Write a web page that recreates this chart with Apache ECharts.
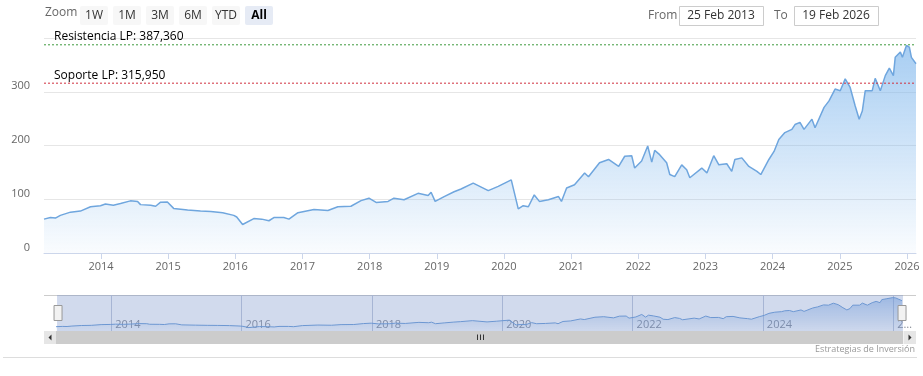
<!DOCTYPE html>
<html>
<head>
<meta charset="utf-8">
<script src="https://cdn.jsdelivr.net/npm/echarts@6/dist/echarts.min.js"></script>
<style>
  html, body { margin: 0; padding: 0; background: #fff; }
  #chart { width: 923px; height: 376px; }
</style>
</head>
<body>
<div id="chart"></div>
<script>
const FONT = 'Open Sans';

// price series
const dates = [
  '2013-02-25','2013-04-01','2013-04-28','2013-05-25','2013-07-19','2013-09-11','2013-11-05','2013-12-29',
  '2014-01-25','2014-03-09','2014-04-17','2014-06-10','2014-07-19','2014-08-04','2014-09-28','2014-10-25','2014-11-21','2014-12-28',
  '2015-01-31','2015-04-17','2015-06-26','2015-08-21','2015-10-25','2015-12-24',
  '2016-01-09','2016-02-10','2016-04-11','2016-05-24','2016-07-02','2016-07-29','2016-09-21','2016-10-19','2016-12-07',
  '2017-03-04','2017-05-19','2017-07-12','2017-09-21','2017-11-15','2017-12-28',
  '2018-02-05','2018-04-11','2018-05-13','2018-07-07','2018-09-21','2018-11-15','2018-12-01','2018-12-23',
  '2019-02-10','2019-04-05','2019-05-13','2019-07-18','2019-10-08','2019-12-01',
  '2020-02-10','2020-02-20','2020-03-19','2020-04-15','2020-05-13','2020-06-14','2020-07-12','2020-08-30','2020-10-24','2020-11-09','2020-12-07',
  '2021-01-19','2021-03-15','2021-04-05','2021-06-04','2021-07-23','2021-09-16','2021-10-19','2021-11-26','2021-12-12',
  '2022-01-19','2022-02-21','2022-03-15','2022-03-31','2022-04-27','2022-06-04','2022-06-21','2022-07-18','2022-08-25','2022-09-21','2022-10-08','2022-12-12',
  '2023-01-09','2023-02-15','2023-03-15','2023-04-27','2023-05-24','2023-06-10','2023-07-18','2023-08-25','2023-10-08','2023-10-29','2023-12-12',
  '2024-01-09','2024-02-04','2024-03-08','2024-04-15','2024-05-02','2024-05-29','2024-06-20','2024-08-02','2024-08-19','2024-10-07','2024-11-03','2024-12-06',
  '2025-01-03','2025-01-30','2025-02-26','2025-03-25','2025-04-16','2025-05-03','2025-05-19','2025-06-26','2025-07-12','2025-08-09','2025-09-05','2025-09-27','2025-10-19','2025-10-29','2025-11-26','2025-12-07','2025-12-29',
  '2026-01-14','2026-01-25','2026-02-19'
];
const prices = [
  63,66,65,70,76,78,86,88,
  91,89,92,97,96,90,89,87,94.5,95,
  83,80,78,77,75,70,
  67,53,64,63,60,66,66,63,75,
  81,79,86,87,97.5,102,
  94,96,102,99,111,107,113,96,
  105,114,119,130,116,124,
  136,138,82,88,86,108,96,99,105,96,121,
  127,149,142,168,174,161,180,181,158,
  171,199,169,191,183,168,146,142,164,155,140,158,
  149,181,164,166,152,174,177,161,152,146,174,
  189,211,224,230,239,243,230,249,233,271,283,305,
  302,324,308,274,249,264,302,302,325,302,330,344,330,364,374,364,386,
  383,364,352
];

const resistance = 387.36;
const resistanceLabel = 'Resistencia LP: 387,360';
const support = 315.95;
const supportLabel = 'Soporte LP: 315,950';

const mainYears = [2014, 2015, 2016, 2017, 2018, 2019, 2020, 2021, 2022, 2023, 2024, 2025, 2026];
const navYears = [2014, 2016, 2018, 2020, 2022, 2024, 2026];

const rangeButtons = ['1W', '1M', '3M', '6M', 'YTD', 'All'];
const fromDate = '25 Feb 2013';
const toDate = '19 Feb 2026';
const credit = 'Estrategias de Inversión';

const toTs = s => { const p = s.split('-'); return +new Date(+p[0], +p[1] - 1, +p[2]); };
const yearTs = y => +new Date(y, 0, 1);
const seriesData = dates.map((d, i) => [toTs(d), prices[i]]);
const startTs = toTs(dates[0]);
const endTs = toTs(dates[dates.length - 1]);
const yearFmt = v => String(new Date(v).getFullYear());

// toolbar, scrollbar and footer drawn as graphics
const graphics = [];
graphics.push({ type: 'text', left: 45, top: 7, style: { text: 'Zoom', fill: '#666', font: '12px ' + FONT } });
rangeButtons.forEach((b, i) => {
  const sel = b === 'All';
  graphics.push({ type: 'rect', shape: { x: 80 + i * 33, y: 6, width: 28, height: 19, r: 2 },
    style: { fill: sel ? '#e6ebf5' : '#f7f7f7' } });
  graphics.push({ type: 'text', x: 94 + i * 33, y: 15.5,
    style: { text: b, fill: sel ? '#000' : '#333', font: (sel ? 'bold ' : '') + '12px ' + FONT, align: 'center', verticalAlign: 'middle' } });
});
graphics.push({ type: 'text', x: 648, y: 15.5, style: { text: 'From', fill: '#666', font: '12px ' + FONT, verticalAlign: 'middle' } });
graphics.push({ type: 'rect', shape: { x: 679.5, y: 6.5, width: 84, height: 19 }, style: { fill: '#fff', stroke: '#ccc', lineWidth: 1 } });
graphics.push({ type: 'text', x: 721, y: 15.5, style: { text: fromDate, fill: '#333', font: '12px ' + FONT, align: 'center', verticalAlign: 'middle' } });
graphics.push({ type: 'text', x: 774, y: 15.5, style: { text: 'To', fill: '#666', font: '12px ' + FONT, verticalAlign: 'middle' } });
graphics.push({ type: 'rect', shape: { x: 794.5, y: 6.5, width: 84, height: 19 }, style: { fill: '#fff', stroke: '#ccc', lineWidth: 1 } });
graphics.push({ type: 'text', x: 836, y: 15.5, style: { text: toDate, fill: '#333', font: '12px ' + FONT, align: 'center', verticalAlign: 'middle' } });

// navigator outline
graphics.push({ type: 'line', shape: { x1: 44, y1: 295.5, x2: 916, y2: 295.5 }, style: { stroke: '#cccccc', lineWidth: 1 } });
// scrollbar
graphics.push({ type: 'rect', shape: { x: 44, y: 331, width: 872, height: 13 }, style: { fill: '#f2f2f2' } });
graphics.push({ type: 'rect', shape: { x: 56, y: 331, width: 847, height: 13 }, style: { fill: '#cccccc' } });
graphics.push({ type: 'rect', shape: { x: 44, y: 331, width: 12, height: 13 }, style: { fill: '#e6e6e6' } });
graphics.push({ type: 'rect', shape: { x: 904, y: 331, width: 12, height: 13 }, style: { fill: '#e6e6e6' } });
graphics.push({ type: 'polygon', shape: { points: [[51.5, 334.5], [51.5, 340.5], [48.5, 337.5]] }, style: { fill: '#333' } });
graphics.push({ type: 'polygon', shape: { points: [[908.5, 334.5], [908.5, 340.5], [911.5, 337.5]] }, style: { fill: '#333' } });
[477.5, 480.5, 483.5].forEach(x => {
  graphics.push({ type: 'line', shape: { x1: x, y1: 334.5, x2: x, y2: 340 }, style: { stroke: '#333', lineWidth: 1 } });
});
// footer
graphics.push({ type: 'line', shape: { x1: 3, y1: 357.5, x2: 917, y2: 357.5 }, style: { stroke: '#dddddd', lineWidth: 1 } });
graphics.push({ type: 'text', x: 915, y: 349, style: { text: credit, fill: '#999', font: '9px ' + FONT, align: 'right', verticalAlign: 'middle' } });

// horizontal level line across the plot, label via markLine
function levelLine(value, text, color) {
  return {
    type: 'line', xAxisIndex: 0, yAxisIndex: 0, silent: true,
    data: [[startTs, value], [endTs, value]],
    showSymbol: false, symbol: 'none',
    lineStyle: { color: color, type: [2, 2], width: 1 },
    markLine: {
      symbol: 'none', silent: true,
      lineStyle: { color: 'rgba(255,255,255,0)', width: 1 },
      label: { show: true, position: 'insideStartTop', formatter: text, color: '#000', fontSize: 12, distance: [10, 2], fontFamily: FONT },
      data: [{ yAxis: value }]
    }
  };
}

const chart = echarts.init(document.getElementById('chart'));
chart.setOption({
  animation: false,
  textStyle: { fontFamily: FONT },
  grid: [
    { left: 44, right: 7, top: 38, bottom: 123 },
    { left: 56, width: 846, top: 295, height: 36 }
  ],
  xAxis: [
    {
      type: 'value', gridIndex: 0, min: startTs, max: endTs,
      axisLine: { lineStyle: { color: '#ccd6eb' } },
      axisTick: { show: true, length: 6, lineStyle: { color: '#ccd6eb' }, customValues: mainYears.map(yearTs) },
      splitLine: { show: false },
      axisLabel: { color: '#666', fontSize: 11, margin: 8, formatter: yearFmt, fontFamily: FONT, customValues: mainYears.map(yearTs) }
    },
    {
      type: 'value', gridIndex: 1, min: startTs, max: endTs,
      axisLine: { show: false },
      axisTick: { show: false, customValues: navYears.map(yearTs) },
      splitLine: { show: true, lineStyle: { color: '#c3cbdc' } },
      axisLabel: { inside: true, color: '#8a8f99', fontSize: 11, margin: 1, align: 'left', padding: [0, 0, 0, 4], fontFamily: FONT,
        customValues: navYears.map(yearTs),
        formatter: v => (new Date(v).getFullYear() === 2026 ? '2…' : yearFmt(v)) }
    }
  ],
  yAxis: [
    {
      type: 'value', gridIndex: 0, min: 0, max: 400, interval: 100,
      axisLine: { show: false }, axisTick: { show: false },
      splitLine: { lineStyle: { color: '#e6e6e6' } },
      axisLabel: { color: '#666', fontSize: 11, margin: 14, verticalAlign: 'bottom', fontFamily: FONT,
        formatter: v => (v === 400 ? '' : String(v)) }
    },
    { type: 'value', gridIndex: 1, min: 15, max: 415, show: false }
  ],
  dataZoom: [{
    type: 'slider', xAxisIndex: [0], start: 0, end: 100,
    left: 56, width: 846, top: 295, height: 36,
    showDetail: false, showDataShadow: false, brushSelect: false, moveHandleSize: 0,
    backgroundColor: 'rgba(0,0,0,0)', borderColor: 'rgba(0,0,0,0)',
    fillerColor: 'rgba(102,133,194,0.3)',
    handleIcon: 'path://M0,0 H8 V15 H0 Z',
    handleSize: 15,
    handleStyle: { color: '#f2f2f2', borderColor: '#999', borderWidth: 1 }
  }],
  series: [
    {
      type: 'line', xAxisIndex: 0, yAxisIndex: 0, data: seriesData,
      showSymbol: false, symbol: 'none',
      lineStyle: { color: '#6fa6de', width: 1.5 },
      areaStyle: {
        color: new echarts.graphic.LinearGradient(0, 0, 0, 1, [
          { offset: 0, color: 'rgba(124,181,236,0.95)' },
          { offset: 1, color: 'rgba(124,181,236,0.06)' }
        ])
      }
    },
    levelLine(resistance, resistanceLabel, '#3f9a3f'),
    levelLine(support, supportLabel, '#d0303f'),
    {
      type: 'line', xAxisIndex: 1, yAxisIndex: 1, data: seriesData,
      showSymbol: false, symbol: 'none',
      lineStyle: { color: '#6f9fd8', width: 1 },
      areaStyle: {
        color: new echarts.graphic.LinearGradient(0, 0, 0, 1, [
          { offset: 0, color: 'rgba(110,160,225,0.7)' },
          { offset: 1, color: 'rgba(110,160,225,0.05)' }
        ])
      }
    }
  ],
  graphic: graphics
});
window.addEventListener('resize', () => chart.resize());
</script>
</body>
</html>
